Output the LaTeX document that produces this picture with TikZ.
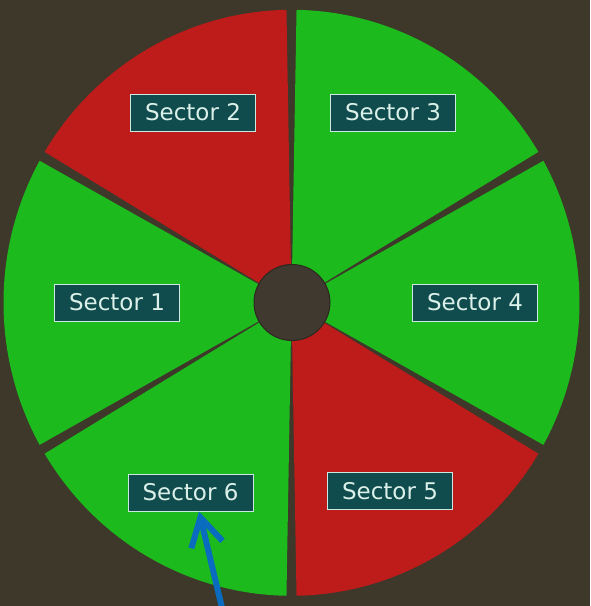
\documentclass[tikz,border=0pt]{standalone}
\usepackage{fontspec}
\setmainfont{DejaVu Sans}
\usetikzlibrary{arrows.meta}
\definecolor{bgc}{RGB}{61,56,41}
\definecolor{holec}{RGB}{63,57,47}
\definecolor{redc}{RGB}{190,27,27}
\definecolor{greenc}{RGB}{29,186,29}
\definecolor{labfill}{RGB}{16,75,78}
\definecolor{labtext}{RGB}{218,240,232}
\definecolor{labline}{RGB}{205,232,222}
\definecolor{arrowc}{RGB}{10,108,190}
\tikzset{
  seclabel/.style={fill=labfill, draw=labline, line width=1pt, text=labtext,
    minimum width=125pt, minimum height=37pt, inner sep=0pt,
    font=\fontsize{23}{27}\selectfont},
  pointer/.style={draw=arrowc, line width=6pt,
    -{Straight Barb[length=28pt,width=32pt,line width=6pt]}}
}
\begin{document}
\begin{tikzpicture}[x=1pt,y=-1pt]
\useasboundingbox (0,0) rectangle (590,606);
\fill[bgc] (0,0) rectangle (590,606);
\coordinate (c) at (291.5,302.8);
\def\RX{288}
\def\RY{293}
\foreach \a/\col in {150/greenc, 90/redc, 30/greenc, -30/greenc, -90/redc, 210/greenc}{
  \pgfmathsetmacro{\sa}{-(\a+1)}
  \pgfmathsetmacro{\ea}{-(\a+59)}
  \fill[\col] (c) -- ++({\RX*cos(\sa)},{\RY*sin(\sa)}) arc[start angle=\sa, end angle=\ea, x radius=\RX, y radius=\RY] -- cycle;
}
\node[circle, fill=holec, draw=black!30!holec, line width=1pt, minimum size=76pt, inner sep=0pt] (hole) at (292,302.5) {};
\node[seclabel] (s1) at (117,302.5) {Sector 1};
\node[seclabel] (s2) at (193,112.5) {Sector 2};
\node[seclabel] (s3) at (393,112.5) {Sector 3};
\node[seclabel] (s4) at (475,302.5) {Sector 4};
\node[seclabel] (s5) at (390,491) {Sector 5};
\node[seclabel] (s6) at (190.5,492.5) {Sector 6};
\coordinate (tail) at (223,612);
\draw[pointer] (tail) -- ([xshift=8.5pt]s6.south);
\end{tikzpicture}
\end{document}
